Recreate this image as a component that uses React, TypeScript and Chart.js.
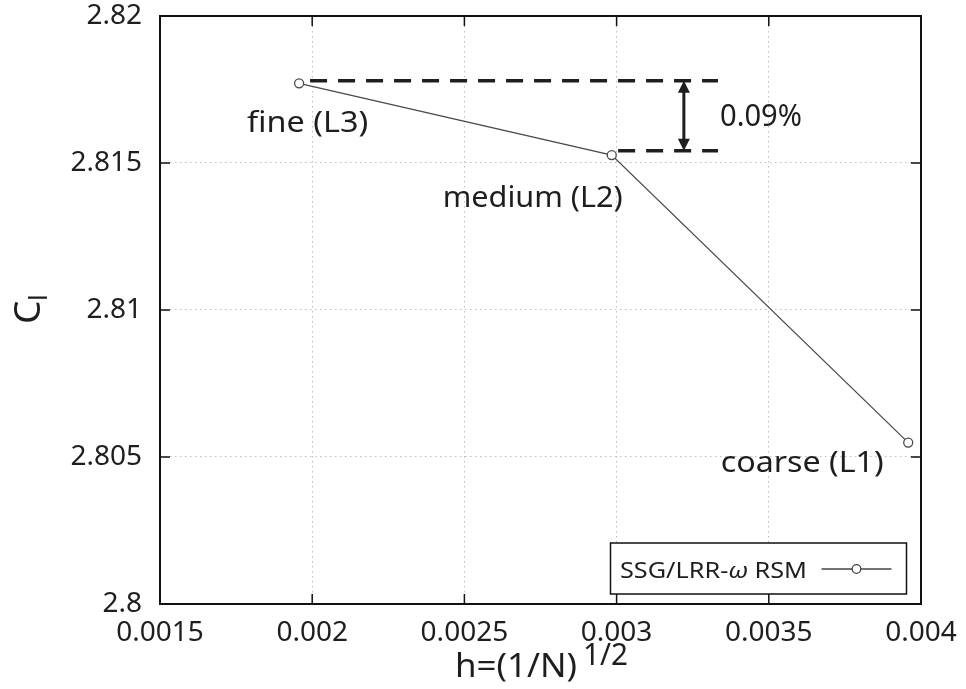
import React, { useEffect, useRef } from 'react';
import { Chart, registerables } from 'chart.js';

Chart.register(...registerables);

// ---------- data ----------
const seriesLabel = 'SSG/LRR-ω RSM';
const hValues = [0.003958, 0.002984, 0.001957];
const clValues = [2.80549, 2.81527, 2.81771];
const pointNames = ['coarse (L1)', 'medium (L2)', 'fine (L3)'];

const xTickValues = [0.0015, 0.002, 0.0025, 0.003, 0.0035, 0.004];
const xTickLabels = ['0.0015', '0.002', '0.0025', '0.003', '0.0035', '0.004'];
const yTickValues = [2.8, 2.805, 2.81, 2.815, 2.82];
const yTickLabels = ['2.8', '2.805', '2.81', '2.815', '2.82'];

// difference annotation (data coordinates)
const diffLevels = [2.8178, 2.81542];
const diffLineStarts = [0.001993, 0.003005];
const diffLineEnd = 0.003333;
const diffArrowX = 0.003221;
const diffText = '0.09%';

const xTitleMain = 'h=(1/N)';
const xTitleSup = '1/2';
const yTitleMain = 'C';
const yTitleSub = 'l';

// ---------- styles / layout (not data) ----------
const FONT = '"Noto Sans", "DejaVu Sans", sans-serif';
const INK = '#1e1e1e';
// label placement relative to each point: [center dx, baseline dy, width]
const labelPlacement = [
  [-106, 29, 163],
  [-79, 52, 180],
  [8.5, 48.5, 121],
];

function drawFitted(ctx: CanvasRenderingContext2D, text: string, left: number, baseline: number, width: number, font: string) {
  ctx.save();
  ctx.font = font;
  const m = ctx.measureText(text).width;
  ctx.translate(left, baseline);
  ctx.scale(width / m, 1);
  ctx.textAlign = 'left';
  ctx.textBaseline = 'alphabetic';
  ctx.fillText(text, 0, 0);
  ctx.restore();
}

const overlayPlugin = {
  id: 'overlay',
  afterDatasetsDraw(chart: any) {
    const { ctx, scales } = chart;
    const x = scales.x;
    const y = scales.y;
    ctx.save();
    ctx.fillStyle = INK;
    ctx.strokeStyle = INK;

    // dashed reference lines
    ctx.lineWidth = 3.5;
    ctx.setLineDash([17, 11]);
    diffLevels.forEach((lv, i) => {
      const py = y.getPixelForValue(lv);
      ctx.beginPath();
      ctx.moveTo(x.getPixelForValue(diffLineStarts[i]), py);
      ctx.lineTo(x.getPixelForValue(diffLineEnd), py);
      ctx.stroke();
    });
    ctx.setLineDash([]);

    // double arrow
    const ax = x.getPixelForValue(diffArrowX);
    const y1 = y.getPixelForValue(diffLevels[0]);
    const y2 = y.getPixelForValue(diffLevels[1]);
    const head = 12;
    const hw = 6;
    ctx.lineWidth = 3;
    ctx.beginPath();
    ctx.moveTo(ax, y1 + head - 1);
    ctx.lineTo(ax, y2 - head + 1);
    ctx.stroke();
    ctx.beginPath();
    ctx.moveTo(ax, y1);
    ctx.lineTo(ax - hw, y1 + head);
    ctx.lineTo(ax + hw, y1 + head);
    ctx.closePath();
    ctx.fill();
    ctx.beginPath();
    ctx.moveTo(ax, y2);
    ctx.lineTo(ax - hw, y2 - head);
    ctx.lineTo(ax + hw, y2 - head);
    ctx.closePath();
    ctx.fill();

    // percent text
    drawFitted(ctx, diffText, x.getPixelForValue(diffLineEnd) + 2, (y1 + y2) / 2 + 10.5, 82, `30px ${FONT}`);

    // point labels
    pointNames.forEach((name, i) => {
      const px = x.getPixelForValue(hValues[i]);
      const py = y.getPixelForValue(clValues[i]);
      const [dx, dy, w] = labelPlacement[i];
      drawFitted(ctx, name, px + dx - w / 2, py + dy, w, `29px ${FONT}`);
    });
    ctx.restore();
  },
  afterDraw(chart: any) {
    const { ctx, chartArea: a, scales } = chart;
    const x = scales.x;
    const y = scales.y;
    ctx.save();
    ctx.strokeStyle = '#111';

    // inward tick marks on all four sides
    ctx.lineWidth = 1.5;
    const tl = 10;
    xTickValues.forEach((v) => {
      const px = x.getPixelForValue(v);
      ctx.beginPath();
      ctx.moveTo(px, a.bottom);
      ctx.lineTo(px, a.bottom - tl);
      ctx.moveTo(px, a.top);
      ctx.lineTo(px, a.top + tl);
      ctx.stroke();
    });
    yTickValues.forEach((v) => {
      const py = y.getPixelForValue(v);
      ctx.beginPath();
      ctx.moveTo(a.left, py);
      ctx.lineTo(a.left + tl, py);
      ctx.moveTo(a.right, py);
      ctx.lineTo(a.right - tl, py);
      ctx.stroke();
    });

    // frame
    ctx.lineWidth = 2;
    ctx.strokeRect(a.left, a.top, a.right - a.left, a.bottom - a.top);

    // legend
    const bw = 296;
    const bh = 51;
    const bx = a.right - 14.5 - bw;
    const by = a.bottom - 10 - bh;
    ctx.fillStyle = '#fff';
    ctx.fillRect(bx, by, bw, bh);
    ctx.lineWidth = 1.5;
    ctx.strokeStyle = '#111';
    ctx.strokeRect(bx, by, bw, bh);
    ctx.fillStyle = INK;
    // legend text with italic omega
    const parts = seriesLabel.split('ω');
    const fN = `22px ${FONT}`;
    const fI = `italic 22px ${FONT}`;
    ctx.font = fN;
    const w0 = ctx.measureText(parts[0]).width;
    const w2 = ctx.measureText(parts[1] || '').width;
    ctx.font = fI;
    const w1 = ctx.measureText('ω').width;
    const total = w0 + w1 + w2;
    const sx = 187 / total;
    ctx.save();
    ctx.translate(bx + 9.5, by + 34.5);
    ctx.scale(sx, 1);
    ctx.textBaseline = 'alphabetic';
    ctx.font = fN;
    ctx.fillText(parts[0], 0, 0);
    ctx.font = fI;
    ctx.fillText('ω', w0, 0);
    ctx.font = fN;
    ctx.fillText(parts[1] || '', w0 + w1, 0);
    ctx.restore();
    // legend sample
    const ly = by + 26;
    ctx.strokeStyle = '#444';
    ctx.lineWidth = 1.3;
    ctx.beginPath();
    ctx.moveTo(bx + 211, ly);
    ctx.lineTo(bx + 281, ly);
    ctx.stroke();
    ctx.beginPath();
    ctx.arc(bx + 246, ly, 4.3, 0, Math.PI * 2);
    ctx.fillStyle = '#fff';
    ctx.fill();
    ctx.stroke();

    // axis titles
    ctx.fillStyle = INK;
    const xt0 = 455;
    drawFitted(ctx, xTitleMain, xt0, a.bottom + 73, 122, `32px ${FONT}`);
    drawFitted(ctx, xTitleSup, xt0 + 128, a.bottom + 61, 45, `30px ${FONT}`);

    ctx.save();
    const ycy = (a.top + a.bottom) / 2;
    ctx.translate(40, ycy + 14);
    ctx.rotate(-Math.PI / 2);
    ctx.textBaseline = 'alphabetic';
    ctx.textAlign = 'left';
    ctx.font = `37px ${FONT}`;
    ctx.fillText(yTitleMain, 0, 0);
    ctx.font = `26px ${FONT}`;
    ctx.fillText(yTitleSub, 23, 7);
    ctx.restore();

    ctx.restore();
  },
};

export default function App() {
  const ref = useRef<HTMLCanvasElement | null>(null);
  useEffect(() => {
    if (!ref.current) return;
    const points = hValues.map((h, i) => ({ x: h, y: clValues[i] }));
    const chart = new Chart(ref.current, {
      type: 'line',
      data: {
        datasets: [
          {
            label: seriesLabel,
            data: points,
            borderColor: '#4a4a4a',
            borderWidth: 1.3,
            pointRadius: 4.5,
            pointBorderWidth: 1.3,
            pointBorderColor: '#4a4a4a',
            pointBackgroundColor: '#ffffff',
            tension: 0,
            fill: false,
          },
        ],
      },
      options: {
        animation: false,
        responsive: false,
        layout: { padding: { left: 0, right: 45, top: 16, bottom: 0 } },
        plugins: { legend: { display: false }, tooltip: { enabled: false } },
        scales: {
          x: {
            type: 'linear',
            min: xTickValues[0],
            max: xTickValues[xTickValues.length - 1],
            afterBuildTicks: (s: any) => {
              s.ticks = xTickValues.map((v) => ({ value: v }));
            },
            afterFit: (s: any) => {
              s.height = 85;
              s.paddingLeft = 0;
              s.paddingRight = 0;
            },
            ticks: {
              autoSkip: false,
              maxRotation: 0,
              padding: 12,
              color: INK,
              font: { family: FONT, size: 28 },
              callback: (_v: any, i: number) => xTickLabels[i],
            },
            grid: { color: '#bdbdbd', lineWidth: 1, drawTicks: false },
            border: { display: false, dash: [1.5, 3.5] },
          },
          y: {
            type: 'linear',
            min: yTickValues[0],
            max: yTickValues[yTickValues.length - 1],
            afterBuildTicks: (s: any) => {
              s.ticks = yTickValues.map((v) => ({ value: v }));
            },
            afterFit: (s: any) => {
              s.width = 160;
              s.paddingTop = 0;
              s.paddingBottom = 0;
            },
            ticks: {
              autoSkip: false,
              padding: 18,
              color: INK,
              font: { family: FONT, size: 28 },
              callback: (_v: any, i: number) => yTickLabels[i],
            },
            grid: { color: '#bdbdbd', lineWidth: 1, drawTicks: false },
            border: { display: false, dash: [1.5, 3.5] },
          },
        },
      },
      plugins: [overlayPlugin],
    });
    return () => chart.destroy();
  }, []);
  return (
    <div style={{ position: 'fixed', left: 0, top: 0, width: 966, height: 689, background: '#fff' }}>
      <canvas ref={ref} width={966} height={689} style={{ display: 'block' }} />
    </div>
  );
}
